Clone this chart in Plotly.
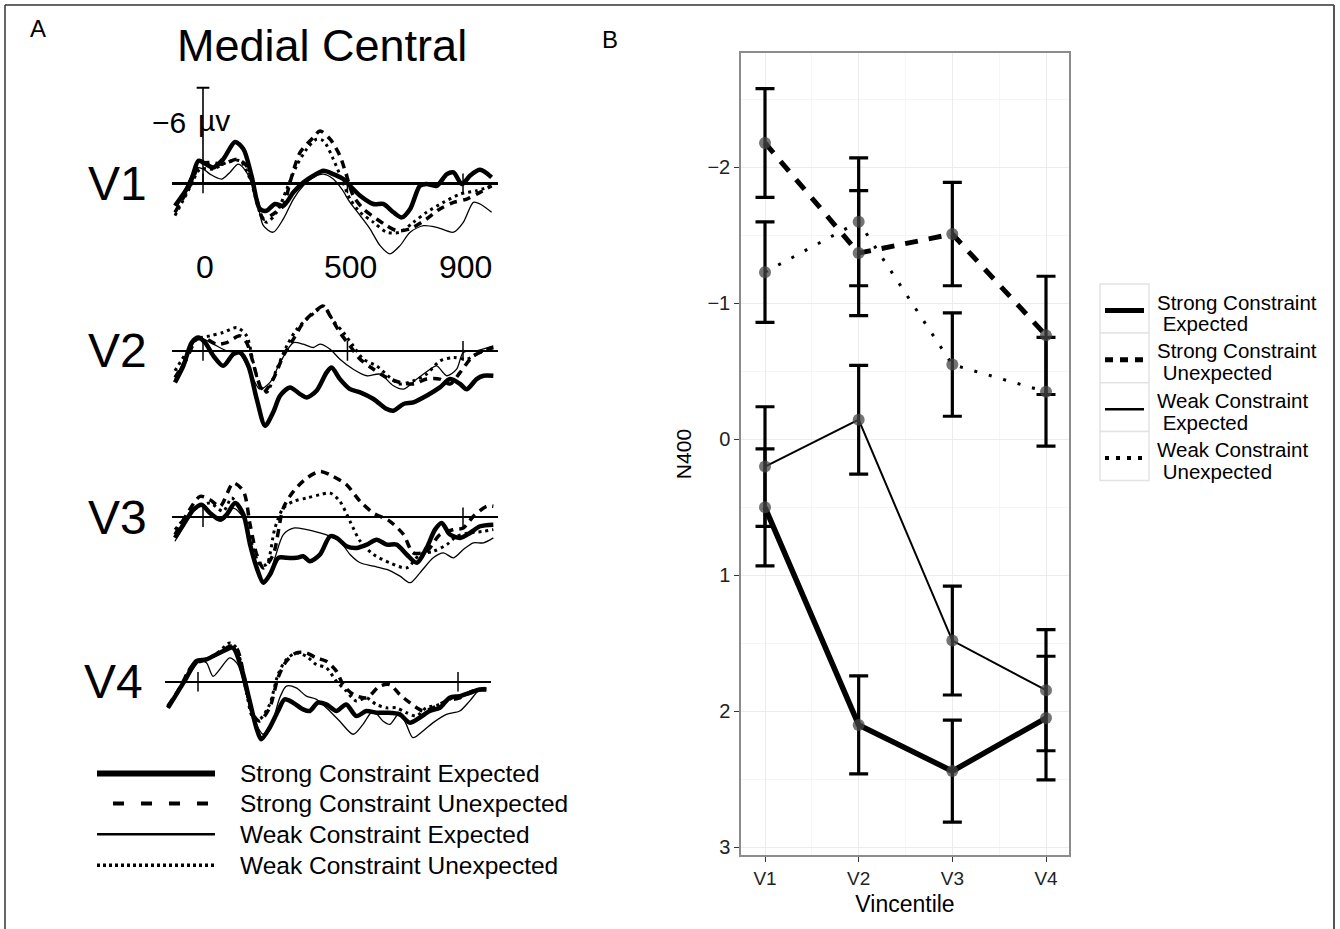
import plotly.graph_objects as go

# ---------------- Panel A data: ERP waveforms (time in ms, amplitude in microvolts) ----------------
V1_SE_t = [-97,-45,-16,1,36,70,111,140,168,197,220,249,278,313,347,382,417,451,486,509,544,590,624,659,688,717,751,774,809,844,867,896,924,959,999]
V1_SE_uv = [1.40,0,-1.42,-1.31,-1.0,-1.52,-2.60,-2.15,-0.48,1.60,1.71,1.29,1.40,0.56,-0.06,-0.48,-0.79,-0.58,-0.27,0.15,0.77,1.29,1.29,1.81,2.13,1.60,0.15,0.04,0.15,-0.58,-0.69,0.04,-0.48,-0.85,-0.38]
V1_WE_t = [-97,-57,-22,1,24,65,93,122,151,186,209,243,278,313,347,382,417,451,480,509,544,578,613,647,682,717,763,809,867,901,936,959,999]
V1_WE_uv = [1.81,0.15,-1.0,-0.90,-0.58,-0.27,-0.69,-1.21,-0.69,0.98,2.65,3.06,2.23,0.98,0.15,-0.38,-0.58,-0.27,0.35,1.19,2.02,2.85,3.90,4.42,3.90,3.06,2.65,2.75,3.06,2.44,1.19,1.29,1.81]
V1_SU_t = [-97,-45,-10,24,70,117,151,186,209,243,278,301,336,382,405,440,474,497,520,555,601,636,670,717,774,820,867,913,959,999]
V1_SU_uv = [1.81,0.15,-1.21,-1.31,-1.21,-1.52,-1.10,0.98,2.23,1.92,1.40,-0.06,-1.94,-2.88,-3.29,-2.77,-1.73,-0.48,0.77,1.60,2.23,2.65,2.96,2.85,2.23,1.60,1.19,0.98,0.56,0.15]
V1_WU_t = [-97,-45,-10,36,82,128,163,197,220,255,290,324,359,393,417,451,480,509,544,590,636,682,728,774,832,890,947,999]
V1_WU_uv = [2.02,0.25,-0.90,-0.90,-1.31,-1.42,-0.27,1.81,2.44,1.81,0.35,-1.10,-2.15,-2.77,-2.67,-1.52,-0.27,0.98,1.81,2.44,3.06,3.06,2.44,1.81,1.19,0.67,0.46,0.15]

V2_SE_t = [-97,-68,-39,-16,7,36,70,105,128,157,186,215,243,267,301,336,359,393,428,445,474,509,544,590,636,659,694,728,774,820,855,890,913,947,971,1005]
V2_SE_uv = [1.98,0.94,-0.52,-0.83,-0.52,0.31,0.94,0.21,0.10,0.94,3.02,4.69,3.85,2.81,2.29,2.71,2.92,2.50,1.35,1.04,1.77,2.40,2.60,3.02,3.65,3.75,3.33,3.23,2.81,2.29,1.77,2.08,2.40,1.77,1.56,1.56]
V2_WE_t = [-97,-57,-22,1,36,82,128,163,197,232,267,313,347,382,405,440,474,520,567,613,659,694,740,786,809,844,878,901,947,1005]
V2_WE_uv = [1.77,0.31,-0.73,-0.73,-0.42,0,0.21,1.35,2.40,1.98,0.73,-0.52,-0.42,-0.21,-0.42,-0.10,0.52,1.15,1.56,1.46,2.19,2.40,1.77,1.15,0.94,1.56,1.15,0.10,0,-0.31]
V2_SU_t = [-97,-57,-22,13,47,82,128,151,186,209,243,278,313,347,382,417,440,474,509,544,590,636,682,728,774,820,855,890,936,1005]
V2_SU_uv = [1.67,0.52,-0.73,-0.73,-0.42,-0.52,-0.94,-0.52,1.56,2.60,1.77,0.31,-0.73,-1.77,-2.40,-2.81,-2.19,-1.15,-0.31,0.52,1.15,1.67,1.98,2.08,1.77,1.77,2.08,1.35,0.31,-0.21]
V2_WU_t = [-97,-57,-22,24,70,117,151,174,197,220,255,290,324,359,393,417,451,486,520,555,601,647,682,728,774,820,867,913,959,1005]
V2_WU_uv = [1.25,0.10,-0.73,-0.94,-1.15,-1.46,-0.94,0.73,2.19,2.60,1.15,-0.31,-1.35,-1.98,-2.50,-2.81,-1.88,-1.15,-0.31,0.52,0.94,1.67,2.08,1.88,1.46,0.63,0.42,0.52,0.10,-0.21]

V3_SE_t = [-97,-68,-33,-5,24,59,82,111,140,163,186,209,232,261,290,324,347,370,405,440,463,497,532,567,601,636,670,705,740,774,803,826,855,890,924,959,1005]
V3_SE_uv = [1.29,0.46,-0.48,-0.79,-0.27,0.15,-0.17,-0.90,-0.17,1.71,3.17,4.10,3.58,2.54,2.54,2.54,2.44,2.75,2.33,1.19,1.29,1.81,1.92,1.71,1.40,1.71,1.71,2.33,2.85,1.92,0.77,0.35,1.08,1.29,0.98,0.56,0.46]
V3_WE_t = [-97,-57,-22,1,36,70,105,140,174,197,220,249,278,313,359,405,440,474,509,544,590,636,682,717,751,797,832,867,901,936,971,1005]
V3_WE_uv = [1.50,0.25,-0.58,-0.69,-0.17,0.15,-0.58,0.04,2.33,3.79,4.00,2.54,1.08,0.67,0.77,0.98,1.19,1.50,2.33,2.85,3.06,3.27,3.69,4.10,3.48,2.54,2.23,2.54,2.02,1.60,1.60,1.29]
V3_SU_t = [-97,-57,-10,24,59,105,140,163,186,209,243,278,313,359,405,451,497,544,590,647,694,728,774,820,867,901,936,982,1005]
V3_SU_uv = [1.08,-0.17,-1.31,-1.10,-0.69,-2.15,-1.63,0.46,2.33,3.17,2.33,-0.58,-1.63,-2.46,-2.88,-2.56,-2.04,-1.0,-0.27,0.25,1.08,2.23,2.13,1.08,0.77,0.67,-0.06,-0.69,-0.69]
V3_WU_t = [-97,-57,-22,24,70,99,128,163,197,220,249,278,313,359,405,440,474,509,544,590,647,705,751,797,844,878,924,971,1005]
V3_WU_uv = [0.77,-0.06,-0.58,-0.90,-0.38,-1.21,-0.58,1.29,2.96,2.96,0.67,-0.58,-1.0,-1.21,-1.42,-1.52,-1.0,0.25,1.50,2.33,2.85,3.17,2.33,2.13,1.71,1.19,0.98,0.88,0.77]

V4_SE_t = [-104,-75,-40,-6,29,63,98,121,150,179,202,219,248,277,300,329,364,387,415,444,479,513,548,583,617,652,698,733,767,802,837,871,906,940,975,998]
V4_SE_uv = [1.63,0.79,-0.25,-1.29,-1.40,-1.71,-2.02,-2.13,-0.88,1.21,2.88,3.60,2.88,1.83,1.10,1.31,1.73,1.83,1.31,1.42,1.83,1.42,2.15,1.83,1.94,1.94,2.04,2.56,2.25,1.83,1.63,1.0,0.90,0.69,0.48,0.48]
V4_WE_t = [-104,-63,-29,6,29,52,75,110,138,167,202,225,254,283,306,340,375,410,444,490,537,571,606,640,664,698,721,744,779,814,860,906,940,975,998]
V4_WE_uv = [1.63,0.48,-0.46,-1.29,-1.19,-0.35,-0.77,-1.50,-1.08,0.79,2.67,3.29,2.67,1.0,0.27,0.38,0.90,1.10,1.63,2.46,3.29,2.67,1.83,2.46,2.67,1.94,2.67,3.50,3.08,2.56,2.04,1.83,1.21,0.48,0.38]
V4_SU_t = [-104,-63,-17,29,75,110,133,167,190,213,248,277,306,340,375,410,444,479,502,537,583,629,664,698,733,779,814,860,906,952,998]
V4_SU_uv = [1.52,0.38,-1.08,-1.40,-1.81,-2.23,-2.13,0.38,2.04,2.46,1.63,-0.25,-1.29,-1.81,-1.81,-1.50,-1.29,-0.67,0.17,0.79,1.0,0.27,0.17,0.79,1.31,1.83,1.63,1.21,1.0,0.58,0.48]
V4_WU_t = [-104,-63,-17,29,75,110,133,167,190,213,248,277,306,340,375,410,444,479,513,548,583,617,652,687,721,756,790,837,883,929,975,998]
V4_WU_uv = [1.63,0.38,-1.08,-1.40,-1.92,-2.44,-2.13,0.58,2.25,2.35,1.42,-0.46,-1.40,-1.81,-1.60,-1.08,-0.88,-0.04,0.58,1.21,1.0,1.42,1.63,1.63,1.94,2.15,1.63,1.42,1.0,0.79,0.48,0.38]

panel_labels = ["V1", "V2", "V3", "V4"]
panel_tick_times = [[0, 500, 900], [0, 500, 900], [0, 900], [0, 900]]
time_labels = ["0", "500", "900"]
time_label_pos = [7, 509, 907]
calib_uv = -6
calib_text = "\u22126"

# ---------------- Panel B data ----------------
categories = ["V1", "V2", "V3", "V4"]
n400_strong_exp = [0.50, 2.10, 2.44, 2.05]
err_strong_exp = [0.43, 0.36, 0.375, 0.455]
n400_strong_unexp = [-2.18, -1.37, -1.51, -0.765]
err_strong_unexp = [0.40, 0.46, 0.38, 0.435]
n400_weak_exp = [0.20, -0.145, 1.48, 1.845]
err_weak_exp = [0.44, 0.40, 0.40, 0.445]
n400_weak_unexp = [-1.23, -1.60, -0.55, -0.35]
err_weak_unexp = [0.37, 0.47, 0.38, 0.40]

cond_names_A = ["Strong Constraint Expected", "Strong Constraint Unexpected",
                "Weak Constraint Expected", "Weak Constraint Unexpected"]
cond_names_B = [("Strong Constraint", " Expected"), ("Strong Constraint", " Unexpected"),
                ("Weak Constraint", " Expected"), ("Weak Constraint", " Unexpected")]

# ---------------- layout helpers ----------------
W, H = 1340, 929
FONT = "Liberation Sans, Arial, Helvetica, sans-serif"


def px(x):
    return x / W


def py(y):
    return 1 - y / H


fig = go.Figure()

styleA = [dict(width=4.5, dash="solid"), dict(width=3.5, dash="8px,6px"),
          dict(width=1.3, dash="solid"), dict(width=3.0, dash="3px,4px")]

waves = [
    [(V1_SE_t, V1_SE_uv), (V1_SU_t, V1_SU_uv), (V1_WE_t, V1_WE_uv), (V1_WU_t, V1_WU_uv)],
    [(V2_SE_t, V2_SE_uv), (V2_SU_t, V2_SU_uv), (V2_WE_t, V2_WE_uv), (V2_WU_t, V2_WU_uv)],
    [(V3_SE_t, V3_SE_uv), (V3_SU_t, V3_SU_uv), (V3_WE_t, V3_WE_uv), (V3_WU_t, V3_WU_uv)],
    [(V4_SE_t, V4_SE_uv), (V4_SU_t, V4_SU_uv), (V4_WE_t, V4_WE_uv), (V4_WU_t, V4_WU_uv)],
]

baseline_px = [184, 352, 519, 684]
top_extent_px = [78, 272, 439, 604]
zero_px = [203, 203, 203, 198]
x_extent_px = [(172, 498), (172, 498), (172, 498), (165, 491)]
PX_PER_MS = 0.2889
PX_PER_UV = 16.0
zero_w = [2.8, 1.8, 1.8, 1.8]

layout_axes = {}
for i in range(4):
    n = i + 1
    xa = "x" if n == 1 else f"x{n}"
    ya = "y" if n == 1 else f"y{n}"
    b = baseline_px[i]
    top_px, bot_px = top_extent_px[i], b + 80
    x0p, x1p = x_extent_px[i]
    xr = [(x0p - zero_px[i]) / PX_PER_MS, (x1p - zero_px[i]) / PX_PER_MS]
    yr = [(bot_px - b) / PX_PER_UV, (top_px - b) / PX_PER_UV]
    layout_axes[f"xaxis{'' if n == 1 else n}"] = dict(
        domain=[px(x0p), px(x1p)], range=xr, anchor=ya, visible=False, fixedrange=True)
    layout_axes[f"yaxis{'' if n == 1 else n}"] = dict(
        domain=[py(bot_px), py(top_px)], range=yr, anchor=xa, showgrid=False,
        showticklabels=False, ticks="", showline=False, zeroline=True,
        zerolinecolor="black", zerolinewidth=zero_w[i], fixedrange=True)
    for k, (tt, vv) in enumerate(waves[i]):
        fig.add_trace(go.Scatter(
            x=tt, y=vv, mode="lines", xaxis=xa, yaxis=ya, showlegend=False,
            line=dict(color="black", width=styleA[k]["width"], dash=styleA[k]["dash"],
                      shape="spline", smoothing=0.8),
            hoverinfo="skip"))
    tts = panel_tick_times[i]
    fig.add_trace(go.Scatter(
        x=tts, y=[0] * len(tts), mode="markers", xaxis=xa, yaxis=ya, showlegend=False,
        marker=dict(symbol="line-ns", size=14, line=dict(color="black", width=1.5)),
        hoverinfo="skip"))
    fig.add_annotation(x=px(117 if i < 3 else 113), y=py(b), xref="paper", yref="paper",
                       text=panel_labels[i], showarrow=False,
                       font=dict(size=48, color="black", family=FONT),
                       xanchor="center", yanchor="middle")

# calibration bar in V1
fig.add_trace(go.Scatter(x=[0, 0], y=[0, calib_uv], mode="lines", xaxis="x", yaxis="y",
                         line=dict(color="black", width=1.6), showlegend=False, hoverinfo="skip"))
fig.add_trace(go.Scatter(x=[-22, 22], y=[calib_uv, calib_uv], mode="lines", xaxis="x", yaxis="y",
                         line=dict(color="black", width=2), showlegend=False, hoverinfo="skip"))
fig.add_annotation(x=px(188), y=py(123), xref="paper", yref="paper", text=calib_text,
                   showarrow=False, font=dict(size=30, family=FONT, color="black"),
                   xanchor="right", yanchor="middle")
fig.add_annotation(x=px(196), y=py(121), xref="paper", yref="paper", text="\u00b5v",
                   showarrow=False, font=dict(size=30, family=FONT, color="black"),
                   xanchor="left", yanchor="middle", bgcolor="rgba(255,255,255,0)")
for lab, tpos in zip(time_labels, time_label_pos):
    fig.add_annotation(x=tpos, y=py(268), xref="x", yref="paper", text=lab, showarrow=False,
                       font=dict(size=32, family=FONT, color="black"),
                       xanchor="center", yanchor="middle")

# titles
fig.add_annotation(x=px(322), y=py(46), xref="paper", yref="paper", text="Medial Central",
                   showarrow=False, font=dict(size=45, family=FONT, color="black"),
                   xanchor="center", yanchor="middle")
fig.add_annotation(x=px(38), y=py(29), xref="paper", yref="paper", text="A",
                   showarrow=False, font=dict(size=24, family=FONT, color="black"),
                   xanchor="center", yanchor="middle")
fig.add_annotation(x=px(610), y=py(40), xref="paper", yref="paper", text="B",
                   showarrow=False, font=dict(size=24, family=FONT, color="black"),
                   xanchor="center", yanchor="middle")

# panel A legend
shapes = []
legA_y = [776, 806, 837, 868]
legA_style = [dict(width=6, dash="solid"), dict(width=4, dash="11px,17px"),
              dict(width=2.5, dash="solid"), dict(width=3.5, dash="3px,3px")]
for k in range(4):
    x0 = 97 if k != 1 else 113
    shapes.append(dict(type="line", xref="paper", yref="paper", x0=px(x0), x1=px(215),
                       y0=py(legA_y[k]), y1=py(legA_y[k]),
                       line=dict(color="black", width=legA_style[k]["width"], dash=legA_style[k]["dash"])))
    fig.add_annotation(x=px(238), y=py(legA_y[k]), xref="paper", yref="paper", text=cond_names_A[k],
                       showarrow=False, font=dict(size=24.5, family=FONT, color="black"),
                       xanchor="left", yanchor="middle")

# ---------------- Panel B ----------------
xpos = list(range(1, len(categories) + 1))
seriesB = [(n400_strong_exp, err_strong_exp), (n400_strong_unexp, err_strong_unexp),
           (n400_weak_exp, err_weak_exp), (n400_weak_unexp, err_weak_unexp)]
styleB = [dict(width=5.5, dash="solid"), dict(width=5, dash="13px,11px"),
          dict(width=2, dash="solid"), dict(width=3, dash="3px,12px")]
for k, (vals, errs) in enumerate(seriesB):
    fig.add_trace(go.Scatter(
        x=xpos, y=vals, mode="lines", xaxis="x5", yaxis="y5", showlegend=False,
        line=dict(color="black", width=styleB[k]["width"], dash=styleB[k]["dash"]),
        error_y=dict(type="data", array=errs, visible=True, color="black", thickness=3.2, width=9.5),
        hoverinfo="skip"))
for k, (vals, errs) in enumerate(seriesB):
    fig.add_trace(go.Scatter(
        x=xpos, y=vals, mode="markers", xaxis="x5", yaxis="y5", showlegend=False,
        marker=dict(size=12, color="rgba(70,70,70,0.75)"), hoverinfo="skip"))

bx0, bx1, by0, by1 = 741, 1069, 53, 858
ux = (1046 - 765) / 3.0
xr5 = [1 - (765 - bx0) / ux, 4 + (bx1 - 1046) / ux]
uy = (850 - 168) / 5.0
yr5 = [3 + (by1 - 850) / uy, -2 - (168 - by0) / uy]

layout_axes["xaxis5"] = dict(
    domain=[px(bx0), px(bx1)], range=xr5, anchor="y5", tickmode="array", tickvals=xpos,
    ticktext=categories, showgrid=True, gridcolor="#ececec", gridwidth=1.2,
    minor=dict(tickmode="array", tickvals=[1.5, 2.5, 3.5], showgrid=True, gridcolor="#f6f6f6", gridwidth=1),
    showline=True, mirror=True, linecolor="#8c8c8c", linewidth=1.5, ticks="outside", ticklen=5,
    tickcolor="#333", tickwidth=1.3, tickfont=dict(size=19, family=FONT, color="#222"),
    zeroline=False, title=dict(text="Vincentile", font=dict(size=23, family=FONT, color="black"), standoff=8),
    fixedrange=True)
layout_axes["yaxis5"] = dict(
    domain=[py(by1), py(by0)], range=yr5, anchor="x5", tickmode="array", tickvals=[-2, -1, 0, 1, 2, 3],
    showgrid=True, gridcolor="#ececec", gridwidth=1.2,
    minor=dict(tickmode="array", tickvals=[-2.5, -1.5, -0.5, 0.5, 1.5, 2.5], showgrid=True,
               gridcolor="#f6f6f6", gridwidth=1),
    showline=True, mirror=True, linecolor="#8c8c8c", linewidth=1.5, ticks="outside", ticklen=5,
    tickcolor="#333", tickwidth=1.3, tickfont=dict(size=20, family=FONT, color="#222"),
    zeroline=False, title=dict(text="N400", font=dict(size=21, family=FONT, color="black"), standoff=10),
    fixedrange=True)

# panel B legend (key boxes + labels)
rowsB = [285, 334, 384, 433, 482]
keyB_style = [dict(width=5, dash="solid"), dict(width=5, dash="8px,7px"),
              dict(width=2.5, dash="solid"), dict(width=4, dash="4px,7px")]
for k in range(4):
    shapes.append(dict(type="rect", xref="paper", yref="paper", x0=px(1100), x1=px(1149),
                       y0=py(rowsB[k + 1]), y1=py(rowsB[k]),
                       line=dict(color="#e3e3e3", width=1.5), fillcolor="white"))
    yk = (rowsB[k] + rowsB[k + 1]) / 2 + 2
    shapes.append(dict(type="line", xref="paper", yref="paper", x0=px(1105), x1=px(1144),
                       y0=py(yk), y1=py(yk),
                       line=dict(color="black", width=keyB_style[k]["width"], dash=keyB_style[k]["dash"])))
    l1, l2 = cond_names_B[k]
    fig.add_annotation(x=px(1155), y=py(rowsB[k] + 18), xref="paper", yref="paper", text=l1,
                       showarrow=False, font=dict(size=20.5, family=FONT, color="black"),
                       xanchor="left", yanchor="middle")
    fig.add_annotation(x=px(1155), y=py(rowsB[k] + 40), xref="paper", yref="paper", text=l2,
                       showarrow=False, font=dict(size=20.5, family=FONT, color="black"),
                       xanchor="left", yanchor="middle")

# outer frame
shapes.append(dict(type="line", xref="paper", yref="paper", x0=px(5), x1=px(5), y0=py(5), y1=py(935),
                   line=dict(color="#333", width=1.5)))
shapes.append(dict(type="line", xref="paper", yref="paper", x0=px(5), x1=px(1334), y0=py(5), y1=py(5),
                   line=dict(color="#333", width=1.5)))
shapes.append(dict(type="line", xref="paper", yref="paper", x0=px(1334), x1=px(1334), y0=py(5), y1=py(935),
                   line=dict(color="#555", width=2)))

fig.update_layout(
    width=W, height=H, margin=dict(l=0, r=0, t=0, b=0), paper_bgcolor="white", plot_bgcolor="white",
    showlegend=False, shapes=shapes, font=dict(family=FONT, color="black"), **layout_axes)

fig.write_html("out.html")
